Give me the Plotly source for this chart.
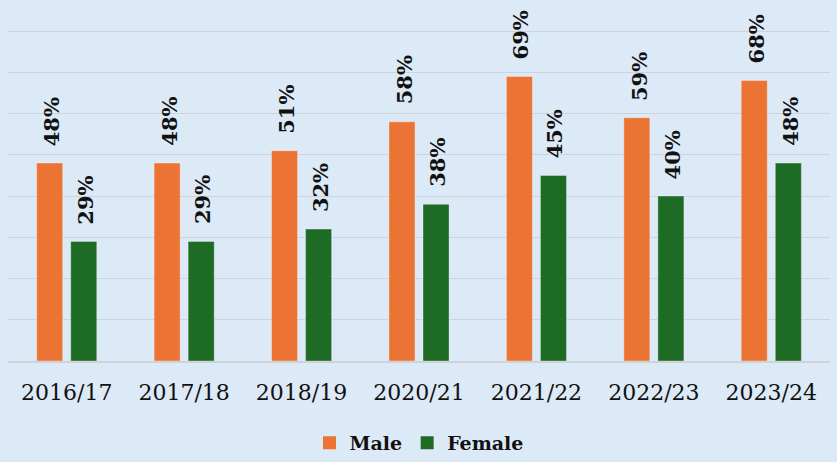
import plotly.graph_objects as go

years = ["2016/17", "2017/18", "2018/19", "2020/21", "2021/22", "2022/23", "2023/24"]
male = [48, 48, 51, 58, 69, 59, 68]
female = [29, 29, 32, 38, 45, 40, 48]
series_names = ["Male", "Female"]
colors = ["#EB7334", "#1D6B25"]
BG = "#DCE9F6"
FONT = "DejaVu Serif"

fig = go.Figure()
for name, vals, col in zip(series_names, [male, female], colors):
    fig.add_trace(go.Bar(
        x=years, y=vals, name=name, showlegend=False, legendgroup=name,
        marker=dict(color=col, line=dict(color="rgba(255,255,255,0.35)", width=1)),
        hoverinfo="skip",
    ))
# legend entries with larger square swatches
for name, col in zip(series_names, colors):
    fig.add_trace(go.Scatter(
        x=[None], y=[None], mode="markers", name=name, legendgroup=name,
        marker=dict(symbol="square", size=13, color=col, line=dict(width=0)),
        hoverinfo="skip",
    ))

annotations = []
for vals, shift in zip([male, female], [-17, 17]):
    for yr, v in zip(years, vals):
        annotations.append(dict(
            x=yr, y=v, xref="x", yref="y",
            text=f"<b>{v}%</b>", showarrow=False,
            textangle=-90, xanchor="center", yanchor="bottom",
            xshift=shift + 2, yshift=15,
            font=dict(family=FONT, size=21, color="#111111"),
        ))

fig.update_layout(
    width=837, height=462,
    paper_bgcolor=BG, plot_bgcolor=BG,
    margin=dict(l=8, r=7, t=27, b=101, autoexpand=False),
    barmode="group", bargap=0.42, bargroupgap=0.235,
    font=dict(family=FONT, size=20, color="#111111"),
    showlegend=True,
    legend=dict(orientation="h", x=0.5, xanchor="center",
                yref="container", y=(462 - 443) / 462, yanchor="middle",
                font=dict(family=FONT, size=19, color="#111111", weight="bold"),
                itemwidth=30, traceorder="normal", bgcolor="rgba(0,0,0,0)"),
    annotations=annotations,
)
fig.update_xaxes(showgrid=False, showline=True, linecolor="#CFD3D8", linewidth=2,
                 ticks="", tickfont=dict(family=FONT, size=22, color="#111111"),
                 ticklabelstandoff=11, automargin=False)
fig.update_yaxes(range=[0, 81], tickvals=[10, 20, 30, 40, 50, 60, 70, 80],
                 showticklabels=False, showgrid=True, automargin=False,
                 gridcolor="#CDD3D9", gridwidth=1, zeroline=False)

fig.write_html("out.html", config={"displayModeBar": False},
               post_script="document.body.style.margin='0';document.body.style.background='" + BG + "';")
